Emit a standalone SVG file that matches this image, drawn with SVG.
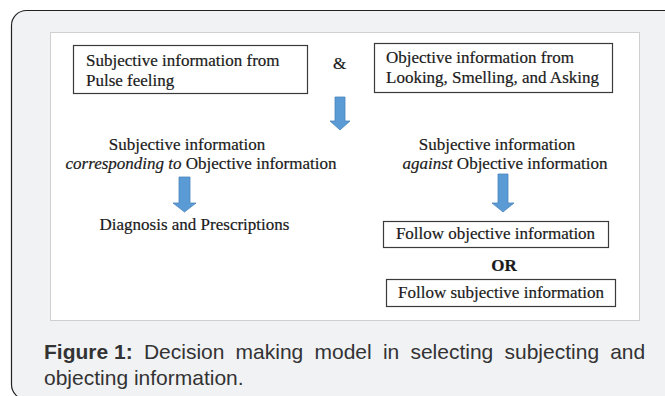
<svg xmlns="http://www.w3.org/2000/svg" width="665" height="396" viewBox="0 0 665 396">
<defs>
<style>
.t{font-family:"Liberation Serif","Times New Roman",serif;font-size:17px;fill:#1a1a1a;stroke:#1a1a1a;stroke-width:0.2}
.box{fill:#fff;stroke:#3a3a3a;stroke-width:1.2}
.arr{fill:#5b9bd5;stroke:#4a85bd;stroke-width:0.8}
.cap{font-family:"Liberation Sans",Arial,sans-serif;font-size:21px;fill:#333}
</style>
</defs>
<rect x="0" y="0" width="665" height="396" fill="#fff"/>
<rect x="11.5" y="10.5" width="700" height="389" rx="15" fill="#f1f2f4" stroke="#222" stroke-width="1.2"/>
<rect x="50.5" y="32.5" width="589" height="288" fill="#fff" stroke="#d0d0d0" stroke-width="1"/>

<g id="n1">
<rect class="box" x="73.5" y="45.5" width="234" height="48"/>
<text class="t" x="86" y="66">Subjective information from</text>
<text class="t" x="86" y="86">Pulse feeling</text>
</g>
<g id="amp"><text class="t" x="333" y="69">&amp;</text></g>
<g id="n2">
<rect class="box" x="374.5" y="43.5" width="238" height="49"/>
<text class="t" x="386" y="63">Objective information from</text>
<text class="t" x="386" y="83">Looking, Smelling, and Asking</text>
</g>
<g id="n3">
<text class="t" x="187" y="150" text-anchor="middle">Subjective information</text>
<text class="t" x="201" y="169" text-anchor="middle"><tspan font-style="italic">corresponding to</tspan> Objective information</text>
</g>
<g id="n4">
<text class="t" x="497" y="150" text-anchor="middle">Subjective information</text>
<text class="t" x="505" y="169" text-anchor="middle"><tspan font-style="italic">against</tspan> Objective information</text>
</g>
<g id="n5"><text class="t" x="194.5" y="230" text-anchor="middle">Diagnosis and Prescriptions</text></g>
<g id="n6">
<rect class="box" x="383.5" y="221.5" width="225" height="26"/>
<text class="t" x="495.5" y="239" text-anchor="middle">Follow objective information</text>
</g>
<g id="n7"><text class="t" x="504" y="271" text-anchor="middle" font-weight="bold">OR</text></g>
<g id="n8">
<rect class="box" x="386.5" y="279.5" width="229" height="27"/>
<text class="t" x="501" y="298" text-anchor="middle">Follow subjective information</text>
</g>

<g id="connectors">
<path class="arr" d="M335,97 H345 V121 H350 L340,130 L330,121 H335 Z"/>
<path class="arr" d="M179,177 H190 V203 H196 L184.5,212 L173,203 H179 Z"/>
<path class="arr" d="M498,174 H508 V203 H514 L503,212 L492,203 H498 Z"/>
</g>

<g id="caption">
<text class="cap" y="359"><tspan x="44" font-weight="bold">Figure 1:</tspan><tspan x="143.9">Decision</tspan><tspan x="235.6">making</tspan><tspan x="314.5">model</tspan><tspan x="382.9">in</tspan><tspan x="410.4">selecting</tspan><tspan x="504.5">subjecting</tspan><tspan x="610.2">and</tspan></text>
<text class="cap" x="44" y="385">objecting information.</text>
</g>
</svg>
